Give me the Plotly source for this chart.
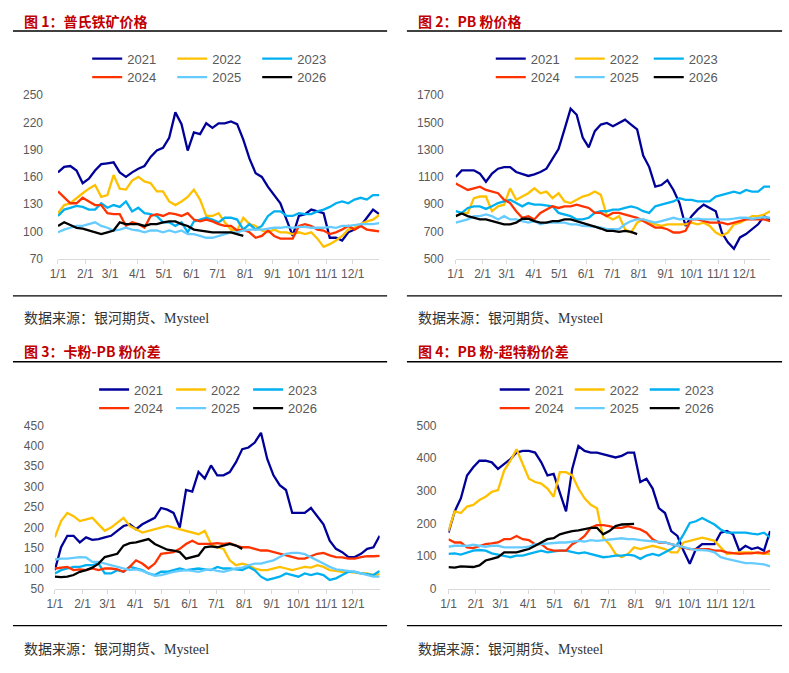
import pandas as pd
import plotly.graph_objects as go

W, H = 789, 673

years = ["2021", "2022", "2023", "2024", "2025", "2026"]
year_colors = ["#000099", "#FFC000", "#00B0F0", "#FF3300", "#66CCFF", "#000000"]
month_ticks = ["1/1", "2/1", "3/1", "4/1", "5/1", "6/1", "7/1", "8/1", "9/1", "10/1", "11/1", "12/1"]

titles = ["图 1：普氏铁矿价格", "图 2：PB 粉价格", "图 3：卡粉-PB 粉价差", "图 4：PB 粉-超特粉价差"]
source = "数据来源：银河期货、Mysteel"

# 周度数据（按 1/1 起每 7 天一个点）
# 图1 普氏铁矿价格
p1_2021 = [165, 171, 172, 167, 153, 158, 167, 174, 175, 176, 165, 160, 165, 169, 172, 182, 189, 192, 203, 231, 218, 189, 209, 207, 219, 214, 219, 219, 221, 218, 201, 180, 164, 160, 149, 140, 131, 113, 95, 117, 119, 124, 122, 120, 93, 93, 90, 99, 102, 106, 115, 124, 119]
p1_2022 = [120, 129, 131, 137, 142, 147, 151, 138, 140, 162, 147, 146, 156, 160, 155, 153, 144, 144, 133, 129, 133, 138, 146, 135, 117, 117, 120, 110, 102, 101, 115, 108, 106, 101, 99, 102, 99, 99, 97, 99, 97, 99, 92, 83, 86, 90, 95, 102, 104, 108, 111, 113, 118]
p1_2023 = [117, 124, 126, 128, 127, 124, 124, 131, 126, 129, 127, 133, 122, 126, 120, 119, 117, 110, 110, 106, 110, 99, 111, 113, 115, 113, 110, 115, 115, 113, 102, 108, 102, 106, 117, 122, 122, 117, 117, 120, 119, 119, 122, 124, 127, 131, 133, 131, 135, 137, 135, 140, 140]
p1_2024 = [144, 138, 131, 131, 137, 133, 129, 129, 120, 119, 119, 106, 110, 108, 104, 117, 119, 117, 120, 119, 117, 120, 113, 111, 113, 111, 108, 106, 106, 101, 102, 99, 93, 95, 101, 95, 92, 92, 92, 106, 108, 106, 102, 101, 97, 99, 102, 106, 102, 106, 102, 101, 100]
p1_2025 = [99, 102, 104, 106, 106, 108, 110, 106, 104, 101, 102, 104, 102, 101, 99, 101, 101, 99, 101, 99, 101, 97, 97, 95, 93, 93, 95, 97, 99, 99, 101, 102, 102, 102, 103, 104, 104, 105, 104, 105, 105, 104, 104, 104, 105, 104, 106, 106, 107, 108, 108, 108, 109]
p1_2026 = [106, 110, 107, 104, 103, 101, 99, 97, 99, 101, 110, 108, 108, 108, 106, 108, 108, 110, 111, 111, 108, 106, 102, 101, 100, 99, 99, 99, 99, 97, 95]

# 图2 PB 粉价格
p2_2021 = [1100, 1148, 1148, 1148, 1124, 1064, 1124, 1160, 1172, 1172, 1136, 1124, 1107, 1119, 1136, 1160, 1232, 1304, 1450, 1600, 1556, 1388, 1316, 1436, 1484, 1496, 1472, 1496, 1520, 1484, 1448, 1256, 1172, 1028, 1040, 1076, 1004, 908, 740, 812, 860, 896, 872, 848, 692, 620, 572, 656, 680, 716, 752, 812, 788]
p2_2022 = [812, 836, 836, 944, 956, 956, 848, 884, 896, 1016, 932, 956, 980, 1016, 980, 992, 944, 980, 920, 908, 932, 956, 968, 992, 968, 812, 788, 812, 716, 692, 764, 788, 764, 752, 740, 752, 752, 752, 752, 764, 752, 764, 740, 692, 668, 692, 752, 764, 788, 812, 812, 824, 848]
p2_2023 = [848, 836, 872, 884, 884, 865, 884, 908, 920, 932, 908, 884, 908, 896, 896, 889, 884, 836, 824, 812, 788, 788, 800, 836, 848, 848, 860, 860, 872, 884, 872, 848, 836, 884, 896, 908, 920, 944, 932, 932, 920, 920, 920, 956, 968, 980, 992, 980, 1004, 992, 992, 1028, 1028]
p2_2024 = [1052, 1028, 1004, 1016, 1028, 1004, 992, 980, 932, 908, 848, 800, 812, 788, 836, 860, 884, 872, 884, 884, 896, 884, 872, 836, 836, 812, 836, 836, 824, 812, 800, 776, 752, 728, 728, 716, 692, 692, 704, 788, 788, 776, 764, 764, 764, 752, 764, 776, 788, 788, 788, 788, 776]
p2_2025 = [764, 776, 788, 812, 812, 824, 812, 788, 812, 788, 788, 776, 764, 776, 752, 764, 764, 764, 764, 752, 752, 740, 740, 735, 728, 716, 716, 716, 752, 776, 788, 788, 776, 764, 776, 788, 800, 788, 793, 788, 793, 788, 788, 788, 783, 788, 793, 800, 800, 793, 800, 805, 800]
p2_2026 = [812, 831, 812, 800, 788, 788, 776, 764, 752, 752, 764, 793, 793, 776, 764, 764, 776, 776, 788, 788, 776, 764, 752, 735, 721, 704, 704, 697, 704, 697, 680]

# 图3 卡粉-PB 粉价差
p3_2021 = [96, 152, 180, 180, 164, 176, 170, 172, 176, 180, 192, 204, 208, 196, 208, 216, 224, 248, 244, 236, 200, 292, 288, 336, 320, 352, 328, 328, 336, 360, 392, 396, 408, 432, 368, 328, 304, 292, 236, 236, 236, 248, 228, 208, 168, 148, 140, 128, 128, 136, 148, 152, 180]
p3_2022 = [176, 216, 236, 228, 216, 220, 224, 208, 192, 200, 212, 224, 204, 196, 188, 192, 196, 200, 204, 200, 196, 192, 188, 184, 192, 160, 152, 148, 120, 108, 112, 108, 100, 96, 96, 100, 104, 100, 96, 100, 104, 102, 108, 104, 96, 94, 92, 92, 90, 88, 88, 84, 86]
p3_2023 = [88, 96, 100, 104, 104, 108, 108, 112, 88, 88, 96, 92, 104, 100, 96, 88, 84, 92, 92, 96, 100, 96, 98, 100, 98, 96, 104, 100, 100, 98, 96, 104, 96, 80, 72, 76, 80, 88, 84, 80, 88, 84, 88, 84, 72, 76, 84, 92, 92, 88, 86, 84, 94]
p3_2024 = [100, 102, 104, 96, 98, 96, 100, 96, 100, 100, 98, 92, 104, 120, 112, 100, 112, 136, 138, 140, 148, 160, 168, 160, 160, 160, 162, 160, 162, 156, 152, 152, 148, 144, 144, 140, 136, 132, 128, 124, 124, 130, 136, 138, 132, 128, 127, 124, 124, 128, 130, 130, 131]
p3_2025 = [122, 124, 124, 126, 128, 127, 116, 116, 112, 108, 104, 100, 96, 98, 94, 88, 82, 84, 88, 92, 94, 96, 94, 92, 96, 98, 94, 92, 96, 100, 102, 108, 112, 112, 116, 120, 128, 136, 138, 138, 135, 128, 120, 112, 104, 98, 96, 94, 92, 88, 84, 80, 80]
p3_2026 = [80, 79, 80, 84, 92, 96, 102, 112, 128, 132, 136, 156, 162, 164, 168, 172, 160, 152, 146, 144, 140, 124, 128, 132, 152, 154, 152, 156, 160, 156, 148]

# 图4 PB 粉-超特粉价差
p4_2021 = [172, 237, 277, 347, 372, 392, 392, 387, 367, 382, 397, 417, 422, 422, 417, 387, 347, 352, 297, 237, 367, 437, 422, 417, 417, 412, 407, 402, 407, 417, 417, 327, 337, 307, 247, 232, 177, 162, 117, 77, 122, 137, 137, 137, 172, 177, 167, 117, 132, 122, 127, 117, 177]
p4_2022 = [177, 237, 232, 252, 257, 272, 282, 297, 302, 362, 392, 427, 382, 337, 327, 322, 307, 282, 357, 357, 347, 307, 277, 257, 247, 157, 137, 107, 97, 107, 127, 122, 127, 132, 127, 122, 112, 112, 142, 147, 152, 157, 152, 147, 127, 107, 109, 112, 112, 112, 109, 109, 107]
p4_2023 = [107, 109, 105, 112, 117, 119, 117, 109, 105, 102, 97, 102, 102, 107, 112, 117, 112, 115, 117, 117, 112, 109, 112, 107, 102, 97, 99, 102, 102, 105, 102, 92, 102, 107, 102, 112, 122, 137, 167, 202, 207, 217, 207, 197, 182, 172, 172, 172, 172, 169, 167, 172, 157]
p4_2024 = [152, 142, 142, 127, 125, 132, 137, 139, 142, 152, 152, 162, 152, 149, 137, 137, 122, 117, 117, 117, 137, 147, 162, 187, 195, 195, 192, 187, 187, 192, 187, 182, 172, 152, 142, 142, 137, 132, 127, 122, 122, 122, 122, 117, 117, 112, 109, 107, 109, 109, 112, 109, 117]
p4_2025 = [129, 132, 132, 132, 135, 132, 129, 132, 132, 127, 127, 125, 127, 129, 137, 137, 139, 142, 142, 142, 145, 147, 145, 149, 147, 149, 152, 152, 155, 152, 152, 149, 147, 145, 145, 142, 137, 132, 127, 122, 119, 119, 117, 112, 97, 92, 87, 82, 79, 79, 77, 75, 69]
p4_2026 = [67, 65, 69, 67, 67, 72, 87, 92, 97, 112, 112, 112, 117, 122, 132, 142, 152, 155, 167, 172, 177, 179, 182, 187, 187, 167, 177, 192, 197, 199, 199]

panel_series = [
    [p1_2021, p1_2022, p1_2023, p1_2024, p1_2025, p1_2026],
    [p2_2021, p2_2022, p2_2023, p2_2024, p2_2025, p2_2026],
    [p3_2021, p3_2022, p3_2023, p3_2024, p3_2025, p3_2026],
    [p4_2021, p4_2022, p4_2023, p4_2024, p4_2025, p4_2026],
]
y_ranges = [[70, 250], [500, 1700], [50, 450], [0, 500]]
y_dticks = [30, 200, 50, 100]

# 版面（像素）
plot_boxes = [  # x0, x1, y_top, y_bottom
    (50.5, 375, 90, 257),
    (452.3, 770, 90, 257),
    (47.3, 375.5, 427.3, 594.3),
    (445, 770, 427.3, 594.3),
]
label_gap = [14, 11, 10, 11]
legend_pos = [(80, 52.7, 71.7, 40), (487.7, 52.7, 71.7, 34),
              (87, 390.7, 409.7, 32), (491.7, 390.7, 409.7, 30)]
panel_left = [5, 403, 5, 403]
panel_right = [383, 782, 383, 782]
title_y = [14, 14, 351, 351]
top_line_y = [24.5, 24.5, 362.3, 362.3]
bottom_line_y = [295, 295, 631.7, 631.7]
source_y = [318, 318, 656, 656]
text_x = [14, 412, 14, 412]


def fx(px):
    return px / W


def fy(py):
    return 1 - py / H


base = pd.Timestamp("2021-01-01")
week_dates = [base + pd.Timedelta(days=7 * k) for k in range(53)]
tick_dates = [pd.Timestamp(2021, m, 1) for m in range(1, 13)]

fig = go.Figure()
layout = {}
annotations = []
shapes = []

for p in range(4):
    sfx = "" if p == 0 else str(p + 1)
    for i, vals in enumerate(panel_series[p]):
        leg_idx = 2 * p + (0 if i < 3 else 1) + 1
        fig.add_trace(go.Scatter(
            x=week_dates[:len(vals)], y=vals, mode="lines", name=years[i],
            line=dict(color=year_colors[i], width=2.3),
            xaxis="x" + sfx, yaxis="y" + sfx,
            legend="legend" if leg_idx == 1 else "legend%d" % leg_idx,
            hoverinfo="skip",
        ))

    x0, x1, yt, yb = plot_boxes[p]
    layout["xaxis" + sfx] = dict(
        domain=[fx(x0), fx(x1)], anchor="y" + sfx, type="date",
        range=["2021-01-01", "2021-12-31"],
        tickvals=tick_dates, ticktext=month_ticks,
        showline=True, linecolor="#D9D9D9", linewidth=1,
        ticks="outside", ticklen=4, tickcolor="#D9D9D9",
        showgrid=False, zeroline=False,
        tickfont=dict(size=12, color="#595959", family="Liberation Sans, Arial"),
    )
    layout["yaxis" + sfx] = dict(
        domain=[fy(yb), fy(yt)], anchor="x" + sfx,
        range=y_ranges[p], dtick=y_dticks[p], tick0=y_ranges[p][0],
        showline=False, showgrid=False, zeroline=False, ticks="",
        ticklabelstandoff=label_gap[p],
        tickfont=dict(size=12, color="#595959", family="Liberation Sans, Arial"),
    )

    lx, ly1, ly2, ew = legend_pos[p]
    for r, ly in enumerate([ly1, ly2]):
        leg_idx = 2 * p + r + 1
        key = "legend" if leg_idx == 1 else "legend%d" % leg_idx
        layout[key] = dict(
            orientation="h", x=fx(lx), xanchor="left", y=fy(ly), yanchor="middle",
            entrywidth=ew, itemwidth=30, bgcolor="rgba(0,0,0,0)",
            font=dict(size=13, color="#595959", family="Liberation Sans, Arial"),
            itemclick=False, itemdoubleclick=False,
        )

    annotations.append(dict(
        text="<b>%s</b>" % titles[p], x=fx(text_x[p]), y=fy(title_y[p]),
        xref="paper", yref="paper", xanchor="left", yanchor="middle", showarrow=False,
        font=dict(size=14, color="#C00000", family="Noto Sans CJK SC, Liberation Sans"),
    ))
    annotations.append(dict(
        text=source, x=fx(text_x[p]), y=fy(source_y[p]),
        xref="paper", yref="paper", xanchor="left", yanchor="middle", showarrow=False,
        font=dict(size=14, color="#333333", family="Liberation Serif, Noto Sans CJK SC"),
    ))
    for ly, lw in [(top_line_y[p], 1.5), (bottom_line_y[p], 1.2)]:
        shapes.append(dict(
            type="line", xref="paper", yref="paper",
            x0=fx(panel_left[p]), x1=fx(panel_right[p]), y0=fy(ly), y1=fy(ly),
            line=dict(color="#000000", width=lw),
        ))

fig.update_layout(
    width=W, height=H, margin=dict(l=0, r=0, t=0, b=0),
    paper_bgcolor="white", plot_bgcolor="white",
    annotations=annotations, shapes=shapes, hovermode=False,
    **layout
)

# 去掉页面默认边距，让图正好占满窗口
fig.write_html("out.html", config={"displayModeBar": False},
               post_script="document.body.style.margin='0';document.body.style.overflow='hidden';")
